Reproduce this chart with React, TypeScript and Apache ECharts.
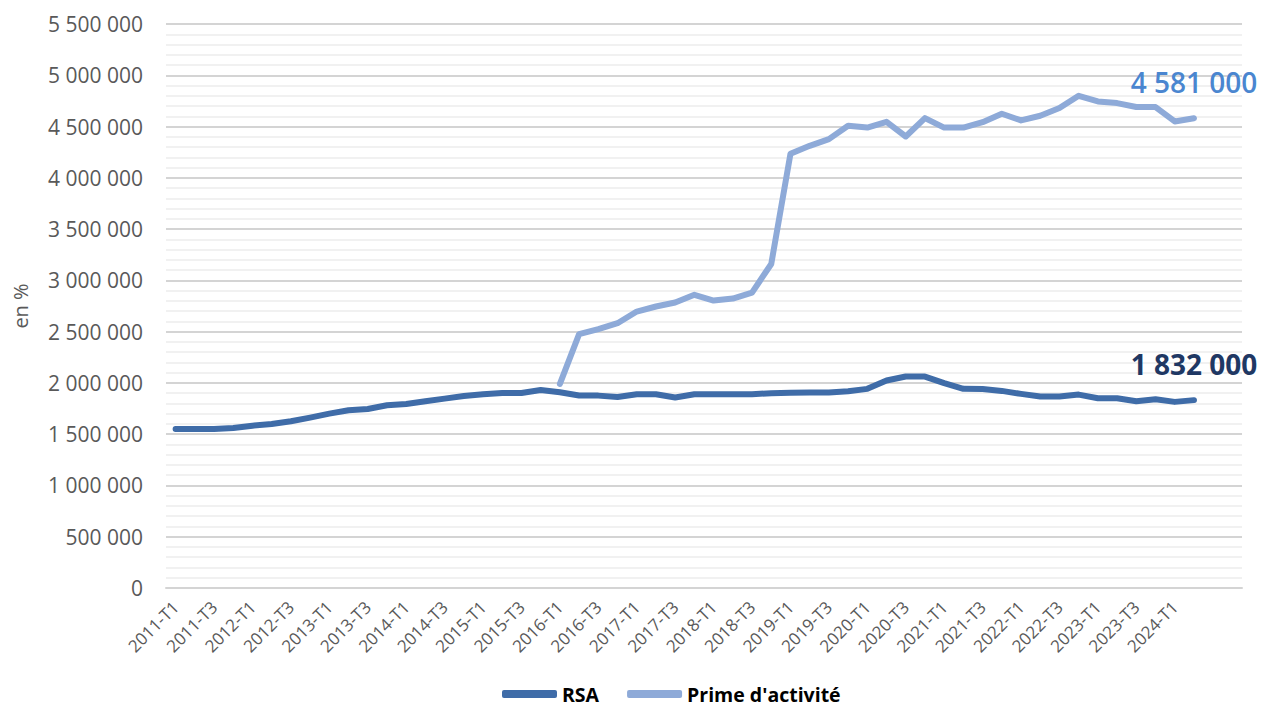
import React, { useEffect, useRef } from "react";
import * as echarts from "echarts";

// Quarters from 2011-T1 to 2024-T2, followed by two empty slots at the end of the axis
const quarters: string[] = [
  "2011-T1", "2011-T2", "2011-T3", "2011-T4",
  "2012-T1", "2012-T2", "2012-T3", "2012-T4",
  "2013-T1", "2013-T2", "2013-T3", "2013-T4",
  "2014-T1", "2014-T2", "2014-T3", "2014-T4",
  "2015-T1", "2015-T2", "2015-T3", "2015-T4",
  "2016-T1", "2016-T2", "2016-T3", "2016-T4",
  "2017-T1", "2017-T2", "2017-T3", "2017-T4",
  "2018-T1", "2018-T2", "2018-T3", "2018-T4",
  "2019-T1", "2019-T2", "2019-T3", "2019-T4",
  "2020-T1", "2020-T2", "2020-T3", "2020-T4",
  "2021-T1", "2021-T2", "2021-T3", "2021-T4",
  "2022-T1", "2022-T2", "2022-T3", "2022-T4",
  "2023-T1", "2023-T2", "2023-T3", "2023-T4",
  "2024-T1", "2024-T2", "", "",
];

// Foyers allocataires du RSA
const rsa: number[] = [
  1550000, 1550000, 1550000, 1560000, 1583000, 1600000, 1626000, 1661000,
  1700000, 1734000, 1746000, 1782000, 1795000, 1821000, 1847000, 1873000,
  1890000, 1902000, 1902000, 1930000, 1909000, 1878000, 1876000, 1862000,
  1889000, 1889000, 1858000, 1889000, 1890000, 1890000, 1890000, 1900000,
  1903000, 1906000, 1906000, 1918000, 1942000, 2023000, 2062000, 2062000,
  1998000, 1942000, 1940000, 1922000, 1893000, 1867000, 1867000, 1886000,
  1851000, 1851000, 1821000, 1841000, 1815000, 1832000,
];

// Foyers allocataires de la prime d'activité (créée en 2016)
const prime: (number | null)[] = [
  null, null, null, null, null, null, null, null,
  null, null, null, null, null, null, null, null,
  null, null, null, null, 1990000, 2475000, 2524000, 2582000,
  2696000, 2745000, 2784000, 2859000, 2803000, 2823000, 2881000, 3160000,
  4234000, 4312000, 4377000, 4507000, 4490000, 4546000, 4403000, 4582000,
  4490000, 4490000, 4543000, 4625000, 4560000, 4605000, 4680000, 4800000,
  4745000, 4729000, 4690000, 4690000, 4550000, 4581000,
];

const yTicks = { min: 0, max: 5500000, step: 500000 };

const withSpaces = (v: number) =>
  String(Math.round(v)).replace(/\B(?=(\d{3})+(?!\d))/g, " ");

// Value label printed above the last point of a line
const lastValueLabel = (color: string) => ({
  show: true,
  formatter: (p: any) => {
    const v = Array.isArray(p.value) ? p.value[p.value.length - 1] : p.value;
    return withSpaces(Number(v));
  },
  distance: 0,
  align: "center",
  verticalAlign: "bottom",
  offset: [0, -22],
  color,
  fontFamily: "Open Sans",
  fontWeight: 600,
  fontSize: 28,
});

export default function App() {
  const ref = useRef<HTMLDivElement>(null);

  useEffect(() => {
    if (!ref.current) return;
    const chart = echarts.init(ref.current, undefined, { renderer: "svg" });

    chart.setOption({
      animation: false,
      backgroundColor: "#ffffff",
      grid: { left: 166, right: 21, top: 24, bottom: 122, containLabel: false },
      legend: {
        left: 497,
        top: 679,
        itemWidth: 55,
        itemHeight: 8,
        itemGap: 28,
        icon: "roundRect",
        textStyle: {
          fontFamily: "Open Sans",
          fontWeight: 700,
          fontSize: 19.5,
          lineHeight: 20,
          color: "#000000",
        },
        data: ["RSA", "Prime d'activité"],
      },
      xAxis: {
        type: "category",
        data: quarters,
        boundaryGap: true,
        axisLine: { show: true, lineStyle: { color: "#d4d4d4", width: 2 } },
        axisTick: { show: false },
        axisLabel: {
          interval: 1,
          rotate: 45,
          margin: 16,
          color: "#595959",
          fontFamily: "Open Sans",
          fontSize: 17,
        },
        splitLine: { show: false },
      },
      yAxis: {
        type: "value",
        min: yTicks.min,
        max: yTicks.max,
        interval: yTicks.step,
        name: "en %",
        nameLocation: "middle",
        nameRotate: 90,
        nameGap: 136,
        nameTextStyle: {
          color: "#595959",
          fontFamily: "Open Sans",
          fontSize: 20,
        },
        axisLine: { show: false },
        axisTick: { show: false },
        axisLabel: {
          margin: 23,
          color: "#595959",
          fontFamily: "Open Sans",
          fontSize: 21,
          formatter: (v: number) => withSpaces(v),
        },
        splitLine: { lineStyle: { color: "#d4d4d4", width: 2 } },
        minorTick: { show: false, splitNumber: 5 },
        minorSplitLine: { show: true, lineStyle: { color: "#ececec", width: 1.5 } },
      },
      series: [
        {
          name: "RSA",
          type: "line",
          data: rsa,
          color: "#3f6ca8",
          showSymbol: false,
          symbol: "none",
          lineStyle: { width: 6, color: "#3f6ca8", cap: "round", join: "round" },
          endLabel: { ...lastValueLabel("#1f3864"), fontWeight: 700 },
        },
        {
          name: "Prime d'activité",
          type: "line",
          data: prime,
          color: "#8eaad8",
          showSymbol: false,
          symbol: "none",
          connectNulls: false,
          lineStyle: { width: 6, color: "#8eaad8", cap: "round", join: "round" },
          endLabel: lastValueLabel("#4a86d0"),
        },
      ],
    });

    return () => chart.dispose();
  }, []);

  return (
    <div
      ref={ref}
      style={{ position: "fixed", left: 0, top: 0, width: 1263, height: 710 }}
    />
  );
}
